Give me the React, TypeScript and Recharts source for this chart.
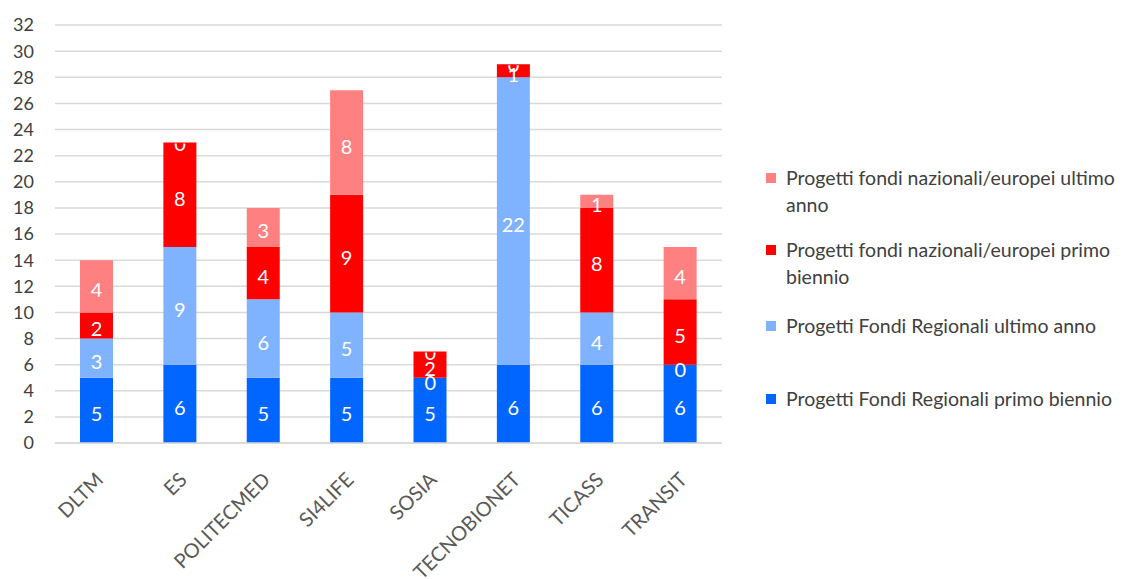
import React from 'react';
import { BarChart, Bar, XAxis, YAxis, CartesianGrid, LabelList, ReferenceDot } from 'recharts';

const categories = ['DLTM', 'ES', 'POLITECMED', 'SI4LIFE', 'SOSIA', 'TECNOBIONET', 'TICASS', 'TRANSIT'];
const regPrimo = [5, 6, 5, 5, 5, 6, 6, 6];
const regUltimo = [3, 9, 6, 5, 0, 22, 4, 0];
const nazPrimo = [2, 8, 4, 9, 2, 1, 8, 5];
const nazUltimo = [4, 0, 3, 8, 0, 0, 1, 4];
const yTicks = [0, 2, 4, 6, 8, 10, 12, 14, 16, 18, 20, 22, 24, 26, 28, 30, 32];

const seriesNames = {
  regPrimo: 'Progetti Fondi Regionali primo biennio',
  regUltimo: 'Progetti Fondi Regionali ultimo anno',
  nazPrimo: 'Progetti fondi nazionali/europei primo biennio',
  nazUltimo: 'Progetti fondi nazionali/europei ultimo anno',
};

const colors = {
  regPrimo: '#0066FF',
  regUltimo: '#80B3FF',
  nazPrimo: '#FF0000',
  nazUltimo: '#FF8080',
};

const keys = ['regPrimo', 'regUltimo', 'nazPrimo', 'nazUltimo'];
const seriesValues: Record<string, number[]> = { regPrimo, regUltimo, nazPrimo, nazUltimo };

const data = categories.map((c, i) => ({
  name: c,
  regPrimo: regPrimo[i],
  regUltimo: regUltimo[i],
  nazPrimo: nazPrimo[i],
  nazUltimo: nazUltimo[i],
}));

// zero-valued segments: label drawn at the stack boundary
const zeroLabels: { cat: string; y: number; key: string; top: boolean; id: string }[] = [];
categories.forEach((c, i) => {
  let cum = 0;
  keys.forEach((k, ki) => {
    const v = seriesValues[k][i];
    if (v === 0) {
      zeroLabels.push({ cat: c, y: cum, key: k, top: ki === keys.length - 1, id: `${k}-${i}` });
    }
    cum += v;
  });
});

const FONT = 'Lato, "Open Sans", sans-serif';
const LABEL_SIZE = 20;

const makeLabel = () => (props: any) => {
  const { x, y, width, height, value } = props;
  if (!value) return null;
  const cx = Number(x) + Number(width) / 2;
  const cy = Number(y) + Number(height) / 2 + 3;
  return (
    <text
      x={cx}
      y={cy}
      fill="#FFFFFF"
      fontSize={LABEL_SIZE}
      fontFamily={FONT}
      textAnchor="middle"
      dominantBaseline="central"
    >
      {value}
    </text>
  );
};

const makeZeroShape = (top: boolean, id: string) => (props: any) => {
  const { cx, cy } = props;
  const text = (
    <text
      x={cx}
      y={top ? cy : cy + 4}
      fill="#FFFFFF"
      fontSize={LABEL_SIZE}
      fontFamily={FONT}
      textAnchor="middle"
      dominantBaseline="central"
    >
      0
    </text>
  );
  if (!top) return <g>{text}</g>;
  const cid = `clipzero-${id}`;
  return (
    <g>
      <defs>
        <clipPath id={cid}>
          <rect x={cx - 20} y={cy + 1} width={40} height={40} />
        </clipPath>
      </defs>
      <g clipPath={`url(#${cid})`}>{text}</g>
    </g>
  );
};

const XTick = (props: any) => {
  const { x, y, payload } = props;
  return (
    <g transform={`translate(${x + 8},${y + 30})`}>
      <text
        x={0}
        y={0}
        textAnchor="end"
        transform="rotate(-45)"
        fill="#595959"
        fontSize={20}
        fontFamily={FONT}
      >
        {payload.value}
      </text>
    </g>
  );
};

const legendItems = [
  { key: 'nazUltimo', lines: ['Progetti fondi nazionali/europei ultimo', 'anno'], top: 164 },
  { key: 'nazPrimo', lines: ['Progetti fondi nazionali/europei primo', 'biennio'], top: 236 },
  { key: 'regUltimo', lines: ['Progetti Fondi Regionali ultimo anno'], top: 312 },
  { key: 'regPrimo', lines: ['Progetti Fondi Regionali primo biennio'], top: 385 },
];

export default function App() {
  return (
    <div style={{ position: 'absolute', left: 0, top: 0, width: 1125, height: 579, background: '#fff' }}>
      <BarChart
        width={1125}
        height={579}
        data={data}
        margin={{ top: 25, right: 403, bottom: 0, left: 10 }}
      >
        <CartesianGrid vertical={false} stroke="#D9D9D9" strokeWidth={1.5} />
        <XAxis
          dataKey="name"
          height={136}
          interval={0}
          tickLine={false}
          axisLine={{ stroke: '#D9D9D9', strokeWidth: 1.5 }}
          tick={<XTick />}
        />
        <YAxis
          width={45}
          domain={[0, 32]}
          ticks={yTicks}
          interval={0}
          tickLine={false}
          axisLine={false}
          tickSize={0}
          tickMargin={21}
          tick={{ fill: '#404040', fontSize: 18, fontFamily: FONT }}
        />
        {keys.map((k) => (
          <Bar
            key={k}
            dataKey={k}
            name={(seriesNames as any)[k]}
            stackId="a"
            fill={(colors as any)[k]}
            barSize={33}
            isAnimationActive={false}
          >
            <LabelList dataKey={k} content={makeLabel()} />
          </Bar>
        ))}
        {zeroLabels.map((z) => (
          <ReferenceDot
            key={z.id}
            x={z.cat}
            y={z.y}
            r={1}
            fill="none"
            stroke="none"
            shape={makeZeroShape(z.top, z.id)}
          />
        ))}
      </BarChart>
      {legendItems.map((it) => (
        <div
          key={it.key}
          style={{
            position: 'absolute',
            left: 766,
            top: it.top,
            fontFamily: FONT,
            fontSize: 19.5,
            lineHeight: '27px',
            color: '#404040',
            whiteSpace: 'nowrap',
          }}
        >
          <span
            style={{
              position: 'absolute',
              left: 0,
              top: 9,
              width: 10,
              height: 10,
              background: (colors as any)[it.key],
            }}
          />
          <div style={{ marginLeft: 20 }}>
            {it.lines.map((l, j) => (
              <div key={j}>{l}</div>
            ))}
          </div>
        </div>
      ))}
    </div>
  );
}
